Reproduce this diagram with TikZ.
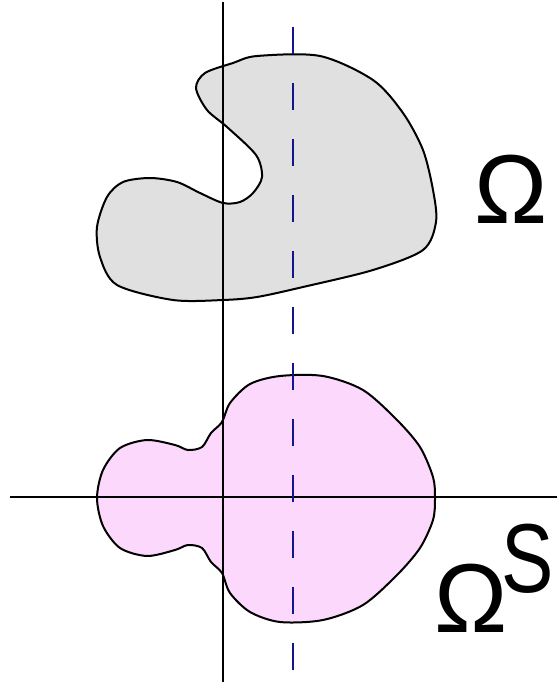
\documentclass[tikz,border=0pt]{standalone}
\usepackage{fontspec}
\setmainfont{Liberation Sans}
\usepackage{graphicx}
\usepackage{tikz}
\usetikzlibrary{positioning}
\definecolor{domGray}{HTML}{E0E0E0}
\definecolor{domPink}{HTML}{FCD8FC}
\definecolor{axisBlue}{HTML}{14148C}

\begin{document}
\begin{tikzpicture}[
        x=1pt, y=-1pt,
        region/.style={draw=black, line width=2pt, line join=round},
        axis/.style={draw=black, line width=2.2pt},
        symAxis/.style={draw=axisBlue, line width=2.4pt, dash pattern=on 27pt off 29pt},
        lbl/.style={inner sep=0pt, anchor=base west, font=\fontsize{98}{98}\selectfont}
      ]
      \useasboundingbox (0,0) rectangle (557,687);

      % --- DOMINIO ORIGINAL ---
      \path[region, fill=domGray] plot[smooth cycle, tension=0.5] coordinates {
        (257,56) (320,56) (373,80) (403,113) (423,150) (433,190) (436,222)
        (423,250) (373,270) (303,287) (257,297) (223,300) (173,300) (117,285)
        (100,257) (97,227) (107,197) (123,182) (150,178) (177,182) (200,193)
        (223,203) (240,202) (253,193) (262,177) (256,155) (227,127) (207,110)
        (196,88) (205,73) (233,63)};

      % --- DOMINIO SIMETRIZADO ---
      \path[region, fill=domPink] plot[smooth cycle, tension=0.5] coordinates {
        (280,376) (323,376) (363,390) (397,420) (420,447) (433,477) (435,498)
        (433,520) (420,548) (397,575) (363,605) (323,620) (280,622) (250,612)
        (230,593) (222,573) (211,562) (202,548) (188,545) (175,550) (147,556)
        (120,548) (103,526) (97,498) (103,470) (120,448) (147,440) (175,445)
        (188,450) (202,447) (211,433) (222,422) (230,403) (250,384)};

      % --- EJES ---
      \coordinate (vTop) at (223,2);
      \coordinate (vBot) at (223,682);
      \coordinate (hLeft) at (10,497);
      \coordinate (hRight) at (557,497);
      \coordinate (sTop) at (293,27);
      \coordinate (sBot) at (293,682);
      \draw[axis] (vTop) -- (vBot);
      \draw[axis] (hLeft) -- (hRight);
      \draw[symAxis] (sTop) -- (sBot);

      % --- ETIQUETAS ---
      \node[lbl] (omega) at (474,223) {Ω};
      \node[lbl] (omegaS) at (434,632) {Ω\kern-6pt\raisebox{40pt}{\scalebox{0.8}[1]{S}}};

    \end{tikzpicture}
\end{document}
